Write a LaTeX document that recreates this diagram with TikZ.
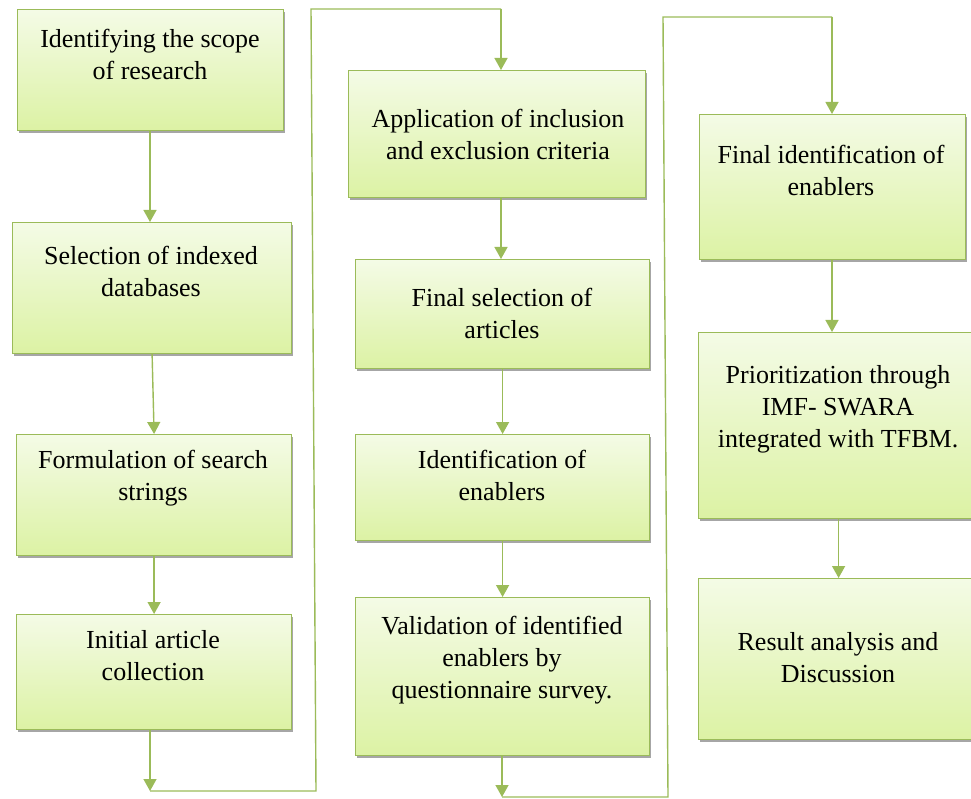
\documentclass[tikz,border=0pt]{standalone}
\usepackage{fontspec}
\setmainfont{Liberation Serif}
\usetikzlibrary{arrows.meta,shadows,calc}
\definecolor{lg}{HTML}{9BBB59}
\definecolor{topc}{HTML}{F4FBE6}
\definecolor{botc}{HTML}{DCF2A4}
\tikzset{
  box/.style={rectangle, draw=lg, line width=1.2pt, top color=topc, bottom color=botc, anchor=north west, inner sep=0pt,
    drop shadow={shadow xshift=1.5pt, shadow yshift=-2.5pt, fill=black, opacity=0.35}},
  txt/.style={align=center, font=\fontsize{26}{32}\selectfont, text=black, inner sep=0pt},
  arr/.style={draw=lg, line width=1.4pt, -{Triangle[width=13pt,length=12pt]}},
  conn/.style={draw=lg, line width=1.4pt}
}
\begin{document}
\begin{tikzpicture}[x=1pt,y=-1pt]
\useasboundingbox (0,0) rectangle (971,799);
% column 1
\node[box, minimum width=266, minimum height=121] (b1) at (17,9) {};
\node[txt] (t1) at (150,54) {Identifying the scope\\of research};
\node[box, minimum width=279, minimum height=131] (b2) at (12,222) {};
\node[txt] (t2) at (151,271) {Selection of indexed\\databases};
\node[box, minimum width=275, minimum height=121] (b3) at (16,434) {};
\node[txt] (t3) at (153,478) {Formulation of search\\strings};
\node[box, minimum width=275, minimum height=115] (b4) at (16,614) {};
\node[txt] (t4) at (153,656) {Initial article\\collection};
% column 2
\node[box, minimum width=297, minimum height=127] (b5) at (348,70) {};
\node[txt] (t5) at (498,134) {Application of inclusion\\and exclusion criteria};
\node[box, minimum width=294, minimum height=109] (b6) at (355,259) {};
\node[txt] (t6) at (502,313) {Final selection of\\articles};
\node[box, minimum width=294, minimum height=106] (b7) at (355,434) {};
\node[txt] (t7) at (502,475) {Identification of\\enablers};
\node[box, minimum width=294, minimum height=158] (b8) at (355,597) {};
\node[txt] (t8) at (502,660) {Validation of identified\\enablers by\\questionnaire survey.};
% column 3
\node[box, minimum width=266, minimum height=145] (b9) at (699,114) {};
\node[txt] (t9) at (831,170) {Final identification of\\enablers};
\node[box, minimum width=280, minimum height=186] (b10) at (698,332) {};
\node[txt] (t10) at (838,409) {Prioritization through\\IMF- SWARA\\integrated with TFBM.};
\node[box, minimum width=280, minimum height=161] (b11) at (698,578) {};
\node[txt] (t11) at (838,658) {Result analysis and\\Discussion};
% coordinates of loop connectors
\coordinate (c1) at (150,791);
\coordinate (c2) at (316,791);
\coordinate (c3) at (311,9);
\coordinate (c4) at (501,9);
\coordinate (c5) at (502,797);
\coordinate (c6) at (668,797);
\coordinate (c7) at (663,17);
\coordinate (c8) at (832,17);
% connectors
\draw[arr] (b1.south -| c1) -- (b2.north -| c1);
\draw[arr] (b2.south) -- (b3.north);
\draw[arr] (b3.south) -- (b4.north);
\draw[arr] (b4.south -| c1) -- (c1);
\draw[conn] (c1) -- (c2) -- (c3) -- (c4);
\draw[arr] (c4) -- (b5.north -| c4);
\draw[arr] (b5.south -| c4) -- (b6.north -| c4);
\draw[arr] (b6.south) -- (b7.north);
\draw[arr] (b7.south) -- (b8.north);
\draw[arr] (b8.south -| c5) -- (c5);
\draw[conn] (c5) -- (c6) -- (c7) -- (c8);
\draw[arr] (c8) -- (b9.north -| c8);
\draw[arr] (b9.south -| c8) -- (b10.north -| c8);
\draw[arr] (b10.south) -- (b11.north);
\end{tikzpicture}
\end{document}
